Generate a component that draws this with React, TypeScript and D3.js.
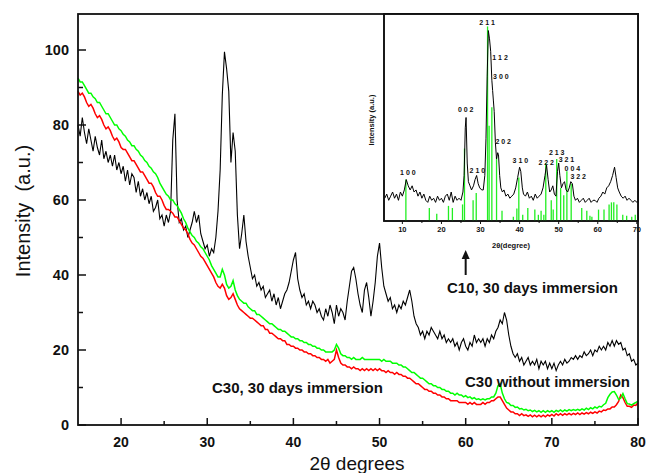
import * as d3 from 'd3';

const W = 646;
const H = 473;

// main pattern sampled every 0.25 deg from 15 to 80 deg (2theta)
const angleStart = 15;
const angleStep = 0.25;

// C10, 30 days immersion (black)
const c10Immersed = [
  80, 77, 82, 78, /* 15 */ 75, 79, 76, 73, /* 16 */ 77, 74, 72, 76, /* 17 */ 71, 73, 70, 72, /* 18 */
  69, 72, 68, 70, /* 19 */ 67, 69, 65, 68, /* 20 */ 64, 67, 66, 62, /* 21 */ 65, 61, 63, 60, /* 22 */
  62, 59, 61, 57, /* 23 */ 58, 60, 55, 56, /* 24 */ 53, 56, 54, 57, /* 25 */ 76, 83, 60, 54, /* 26 */
  55, 52, 53, 50, /* 27 */ 52, 54, 57, 54, /* 28 */ 56, 51, 49, 47, /* 29 */ 48, 45, 47, 46, /* 30 */
  50, 57, 68, 88, /* 31 */ 99.5, 95, 89, 70, /* 32 */ 78, 73, 56, 47, /* 33 */ 51, 56, 49, 45, /* 34 */
  42, 39, 40, 37, /* 35 */ 38, 36, 37, 34, /* 36 */ 35, 36, 33, 35, /* 37 */ 32, 34, 31, 33, /* 38 */
  35, 36, 38, 41, /* 39 */ 44, 46, 39, 36, /* 40 */ 34, 35, 32, 33, /* 41 */ 31, 33, 32, 30, /* 42 */
  31, 29, 28, 31, /* 43 */ 29, 32, 30, 27, /* 44 */ 32, 29, 31, 30, /* 45 */ 28, 33, 37, 41, /* 46 */
  42, 39, 35, 32, /* 47 */ 30, 36, 38, 34, /* 48 */ 29, 33, 38, 45, /* 49 */ 48.5, 42, 37, 35, /* 50 */
  33, 34, 31, 32, /* 51 */ 30, 32, 31, 33, /* 52 */ 32, 34, 36, 33, /* 53 */ 29, 27, 26, 24, /* 54 */
  25, 23, 25, 24, /* 55 */ 26, 25, 24, 23, /* 56 */ 25, 23, 24, 22, /* 57 */ 23, 22, 23, 21, /* 58 */
  22, 20, 22, 23, /* 59 */ 21, 20, 22, 21, /* 60 */ 24, 22, 23, 22, /* 61 */ 23, 21, 23, 22, /* 62 */
  24, 23, 25, 26, /* 63 */ 28, 27, 30, 28, /* 64 */ 24, 21, 19, 18, /* 65 */ 19, 17, 18, 16, /* 66 */
  17, 18, 16, 17, /* 67 */ 16, 17.5, 15, 17, /* 68 */ 16, 17, 15, 16.5, /* 69 */ 15, 16.5, 14.5, 16, /* 70 */
  17, 16, 17.5, 16.5, /* 71 */ 17, 18, 17.5, 18.5, /* 72 */ 17.5, 18.5, 18, 19.5, /* 73 */ 18.5, 19, 20, 18.5, /* 74 */
  20, 19.5, 21, 20, /* 75 */ 21, 20, 22, 21, /* 76 */ 22.5, 21, 22.5, 21.5, /* 77 */ 22, 20, 20.5, 18.5, /* 78 */
  19, 17, 17.5, 16, /* 79 */ 16.5,
];

// C30, 30 days immersion (red)
const c30Immersed = [
  89, 88, 88.5, 87.5, /* 15 */ 86, 85, 85.5, 84.5, /* 16 */ 83, 82, 82.5, 81.5, /* 17 */ 80, 79, 79.5, 78.5, /* 18 */
  77, 76, 76.5, 75.5, /* 19 */ 74, 73.5, 73.5, 72.5, /* 20 */ 71.5, 70.5, 70.5, 69.5, /* 21 */ 68.5, 67.5, 67.5, 66.5, /* 22 */
  65.5, 64.5, 64.5, 63.5, /* 23 */ 62, 61, 61, 60, /* 24 */ 58.5, 57.5, 57.5, 57, /* 25 */ 56.5, 55.5, 55.5, 54.5, /* 26 */
  53.5, 52.5, 52, 51, /* 27 */ 49.5, 48.5, 48, 47, /* 28 */ 46, 45, 44.5, 43.5, /* 29 */ 42.5, 41.5, 40.5, 39.5, /* 30 */
  38, 37, 36.5, 37.5, /* 31 */ 36.5, 34.5, 33.5, 34, /* 32 */ 35, 33.5, 32, 31, /* 33 */ 30.5, 30, 29.5, 29, /* 34 */
  28.5, 28.5, 28, 27.5, /* 35 */ 27, 26.5, 26.5, 25.5, /* 36 */ 25.5, 24.5, 24.5, 24, /* 37 */ 23.5, 23, 23, 22.5, /* 38 */
  22.5, 21.5, 21.5, 21, /* 39 */ 21, 20.5, 20.5, 20, /* 40 */ 20, 19.5, 19.5, 19, /* 41 */ 19, 18.5, 18.5, 18, /* 42 */
  18, 17.5, 17.5, 17, /* 43 */ 17.5, 16.5, 17, 17.5, /* 44 */ 20, 18, 16.5, 16, /* 45 */ 16, 15.5, 15.5, 15, /* 46 */
  15.5, 15, 15, 14.5, /* 47 */ 15, 14.5, 15, 14.5, /* 48 */ 15, 14.5, 15, 14.5, /* 49 */ 15, 14.5, 14.5, 14, /* 50 */
  14.5, 14, 14, 13.5, /* 51 */ 14, 13.5, 13.5, 13, /* 52 */ 13, 12.5, 12.5, 12, /* 53 */ 11.5, 11, 11, 10.5, /* 54 */
  10, 9.5, 9.5, 9, /* 55 */ 9, 8.5, 8.5, 8, /* 56 */ 8, 7.5, 7.5, 7, /* 57 */ 7, 6.5, 6.5, 6.5, /* 58 */
  6.5, 6, 6, 6, /* 59 */ 6, 5.5, 6, 5.5, /* 60 */ 6, 5.5, 5.5, 5.5, /* 61 */ 6, 5.5, 6, 6, /* 62 */
  6.5, 6.5, 7, 7.5, /* 63 */ 7.5, 6.5, 5.5, 4.5, /* 64 */ 4, 3.5, 3.5, 3, /* 65 */ 3, 2.5, 3, 2.5, /* 66 */
  2.7, 2.3, 2.7, 2.2, /* 67 */ 2.6, 2.2, 2.6, 2.2, /* 68 */ 2.6, 2.2, 2.7, 2.4, /* 69 */ 2.8, 2.4, 3, 2.6, /* 70 */
  3, 2.6, 3, 2.7, /* 71 */ 3.1, 2.7, 3.1, 2.8, /* 72 */ 3.2, 2.8, 3.2, 2.9, /* 73 */ 3.3, 3, 3.4, 3.1, /* 74 */
  3.5, 3.2, 3.7, 3.5, /* 75 */ 4, 3.9, 4.3, 4.3, /* 76 */ 4.8, 4.8, 5.4, 6.3, /* 77 */ 8, 7.3, 6, 5, /* 78 */
  5, 4.7, 5.3, 5.2, /* 79 */ 6,
];

// C30 without immersion (green)
const c30Dry = [
  92.5, 91.5, 91.5, 90.5, /* 15 */ 89.5, 88.5, 88.5, 87.5, /* 16 */ 87, 86, 86, 85, /* 17 */ 84, 83, 83, 82, /* 18 */
  81, 80, 80, 79, /* 19 */ 78.5, 77.5, 77, 76, /* 20 */ 75.5, 74.5, 74.5, 73.5, /* 21 */ 73, 72, 71.5, 70.5, /* 22 */
  70, 69, 68.5, 67.5, /* 23 */ 67, 66, 64.5, 63.5, /* 24 */ 62.5, 61.5, 61, 60, /* 25 */ 60, 59, 58.5, 57.5, /* 26 */
  56.5, 55, 54, 52.5, /* 27 */ 51.5, 50.5, 50, 49, /* 28 */ 48.5, 47.5, 47, 46, /* 29 */ 45, 44, 42.5, 41.5, /* 30 */
  40.5, 39.5, 39.5, 41.5, /* 31 */ 40, 37.5, 36.5, 37, /* 32 */ 38.5, 36, 34.5, 33.5, /* 33 */ 33, 32.5, 32.5, 31.5, /* 34 */
  31, 30.5, 30.5, 29.5, /* 35 */ 29.5, 29, 28.5, 28, /* 36 */ 27.5, 27, 27, 26.5, /* 37 */ 26, 25.5, 25.5, 25, /* 38 */
  25, 24.5, 24, 23.5, /* 39 */ 23.5, 23, 23, 22.5, /* 40 */ 22.5, 22, 22, 21.5, /* 41 */ 21.5, 21, 21, 20.5, /* 42 */
  20.5, 20, 20, 19.5, /* 43 */ 19.5, 19.5, 19.5, 20, /* 44 */ 21.5, 20.5, 19, 18.5, /* 45 */ 18.5, 18, 18, 17.5, /* 46 */
  18, 17.5, 17.5, 17.5, /* 47 */ 18, 17.5, 17.5, 17.5, /* 48 */ 17.5, 17.5, 17.5, 17.5, /* 49 */ 17.5, 17, 17.5, 17, /* 50 */
  17, 17, 16.5, 16.5, /* 51 */ 16.5, 16, 16, 15.5, /* 52 */ 15.5, 15, 14.5, 14, /* 53 */ 14, 13.5, 13, 12.5, /* 54 */
  12.5, 12, 11.5, 11, /* 55 */ 11, 10.5, 10.5, 10, /* 56 */ 10, 9.5, 9.5, 9, /* 57 */ 9, 8.5, 8.5, 8, /* 58 */
  8.5, 8, 8, 7.5, /* 59 */ 7.8, 7.3, 7.5, 7, /* 60 */ 7.3, 6.8, 7, 6.7, /* 61 */ 7, 6.7, 7, 7, /* 62 */
  7.5, 7.5, 8.5, 10.5, /* 63 */ 11, 8.5, 7, 6, /* 64 */ 5.8, 5.2, 5.2, 4.7, /* 65 */ 4.8, 4.3, 4.4, 4, /* 66 */
  4.2, 3.8, 4, 3.6, /* 67 */ 3.9, 3.5, 3.8, 3.4, /* 68 */ 3.8, 3.4, 3.8, 3.5, /* 69 */ 3.8, 3.4, 3.9, 3.6, /* 70 */
  4, 3.6, 4, 3.7, /* 71 */ 4.1, 3.8, 4.1, 3.9, /* 72 */ 4.2, 3.9, 4.3, 4, /* 73 */ 4.5, 4.1, 4.6, 4.3, /* 74 */
  4.8, 4.5, 5, 4.8, /* 75 */ 5.4, 5.8, 7.3, 8.2, /* 76 */ 8.8, 8.9, 8, 6.8, /* 77 */ 7.2, 8.4, 7, 5.7, /* 78 */
  5.6, 5.3, 5.7, 6, /* 79 */ 6.4,
];

const xTicks = [20, 30, 40, 50, 60, 70, 80];
const xMinorTicks = [25, 35, 45, 55, 65, 75];
const yTicks = [0, 20, 40, 60, 80, 100];
const yMinorTicks = [10, 30, 50, 70, 90];

// inset: C10 pattern against hydroxyapatite reference sticks
const insetPattern: [number, number][] = [
  [5.5, 11], [6, 13], [6.5, 10], [7, 12], [7.5, 14], [8, 11], [8.5, 13], [9, 10], [9.5, 14], [10, 12],
  [10.5, 15], [11, 20], [11.5, 17], [12, 15], [12.5, 17], [13, 14], [13.5, 15], [14, 12], [14.5, 14], [15, 11],
  [15.5, 13], [16, 10], [16.5, 9], [17, 12], [17.5, 10], [18, 11], [18.5, 9], [19, 12], [19.5, 10], [20, 11],
  [20.5, 9], [21, 12], [21.5, 13], [22, 10], [22.5, 14], [23, 9], [23.5, 12], [24, 10], [24.5, 11], [25, 10],
  [25.5, 14], [25.8, 22], [26.1, 45], [26.3, 50], [26.6, 28], [26.9, 19], [27.3, 17], [27.7, 15], [28.2, 17], [28.6, 20],
  [29, 22], [29.4, 18], [29.8, 16], [30.3, 15], [30.7, 15], [31.1, 22], [31.4, 40], [31.7, 70], [32, 92], [32.3, 88],
  [32.6, 82], [32.9, 68], [33.1, 63], [33.3, 58], [33.5, 53], [33.8, 38], [34.1, 30], [34.4, 33], [34.6, 32], [34.9, 22],
  [35.2, 16], [35.6, 14], [36, 15], [36.5, 12], [37, 13], [37.5, 11], [38, 12], [38.5, 13], [39, 16], [39.5, 21],
  [40, 26], [40.3, 24], [40.7, 16], [41, 13], [41.5, 12], [42, 14], [42.5, 11], [43, 12], [43.5, 10], [44, 13],
  [44.5, 11], [45, 12], [45.5, 13], [46, 16], [46.5, 22], [46.9, 27], [47.3, 20], [47.7, 14], [48.1, 15], [48.5, 17],
  [48.9, 13], [49.3, 12], [49.7, 24], [50, 28], [50.3, 22], [50.7, 16], [51.1, 18], [51.5, 19], [51.9, 15], [52.3, 14],
  [52.7, 16], [53.1, 19], [53.5, 18], [53.9, 12], [54.3, 10], [54.8, 11], [55.3, 9], [55.8, 10], [56.3, 11], [56.8, 9],
  [57.3, 10], [57.8, 11], [58.3, 9], [58.8, 10], [59.3, 10], [59.8, 9], [60.3, 11], [60.8, 12], [61.3, 14], [61.8, 13],
  [62.3, 16], [62.8, 17], [63.3, 19], [63.8, 22], [64.3, 26], [64.7, 21], [65.1, 16], [65.5, 14], [66, 12], [66.5, 11],
  [67, 12], [67.5, 10], [68, 11], [68.5, 10], [69, 9], [69.5, 10], [70, 9], [70.3, 10],
];

const hapSticks: [number, number][] = [
  [10.9, 20], [16.9, 6.3], [18.8, 3.5], [21.8, 7.3], [22.8, 6.3], [25.4, 8], [25.9, 35], [28.1, 10], [28.9, 13.5],
  [31.8, 94], [32.2, 46], [32.9, 55], [34.1, 31], [35.5, 5], [38.4, 2], [39.3, 6], [39.8, 21], [40.8, 3], [42.1, 6.3],
  [43.9, 5.5], [44.8, 3], [45.5, 5], [46.2, 3], [46.7, 28], [48.1, 10], [48.6, 5.5], [49.5, 30], [50.5, 16], [51.3, 12.5],
  [52.1, 24], [53.2, 18], [55.9, 6.3], [57.2, 5], [58.0, 2.5], [58.5, 2], [60.2, 5.5], [61.6, 5.5], [62.9, 8], [63.5, 9],
  [64.1, 9], [64.9, 8], [66.4, 3], [67.4, 2.5], [68.7, 2], [69.6, 3],
];

const hklLabels: { hkl: string; angle: number; level: number }[] = [
  { hkl: '1 0 0', angle: 11.4, level: 23.3 },
  { hkl: '0 0 2', angle: 26.2, level: 54 },
  { hkl: '2 1 0', angle: 29.2, level: 24.3 },
  { hkl: '2 1 1', angle: 31.7, level: 95.8 },
  { hkl: '1 1 2', angle: 35.0, level: 78.9 },
  { hkl: '3 0 0', angle: 35.2, level: 70 },
  { hkl: '2 0 2', angle: 35.8, level: 38.6 },
  { hkl: '3 1 0', angle: 40.2, level: 29.5 },
  { hkl: '2 2 2', angle: 46.8, level: 28.4 },
  { hkl: '2 1 3', angle: 49.5, level: 33.2 },
  { hkl: '3 2 1', angle: 52.0, level: 29.8 },
  { hkl: '0 0 4', angle: 53.5, level: 25.3 },
  { hkl: '3 2 2', angle: 55.0, level: 21.4 },
];
const insetTicks = [10, 20, 30, 40, 50, 60, 70];
const insetMinorTicks = [15, 25, 35, 45, 55, 65];

const FONT = '"Liberation Sans", Arial, Helvetica, sans-serif';
const INK = '#111';

export default function App() {
  // main plot frame
  const left = 78, right = 638, top = 14, bottom = 425;
  const x = d3.scaleLinear().domain([15, 80]).range([left, right]);
  const y = d3.scaleLinear().domain([0, 109.6]).range([bottom, top]);

  // inset frame
  const iLeft = 384, iRight = 638, iTop = 14, iBottom = 221;
  const ix = d3.scaleLinear().domain([5.3, 70.3]).range([iLeft, iRight]);
  const iy = d3.scaleLinear().domain([0, 100]).range([iBottom, iTop]);

  const mainLine = d3
    .line<number>()
    .x((_, i) => x(angleStart + i * angleStep))
    .y((d) => y(d));
  const insetLine = d3
    .line<[number, number]>()
    .x((d) => ix(d[0]))
    .y((d) => iy(d[1]));

  const arrowX = ix(26.2);

  return (
    <div style={{ position: 'absolute', left: 0, top: 0 }}>
      <svg width={W} height={H} style={{ display: 'block', background: '#fff' }} fontFamily={FONT}>
        {/* curves */}
        <path d={mainLine(c10Immersed) ?? ''} fill="none" stroke="#000" strokeWidth={1.1} />
        <path d={mainLine(c30Immersed) ?? ''} fill="none" stroke="#ff0000" strokeWidth={1.5} />
        <path d={mainLine(c30Dry) ?? ''} fill="none" stroke="#00ff00" strokeWidth={1.5} />

        {/* main frame and ticks */}
        <rect x={left} y={top} width={right - left} height={bottom - top} fill="none" stroke={INK} strokeWidth={1.8} />
        {xTicks.map((t) => (
          <g key={`xt${t}`}>
            <line x1={x(t)} x2={x(t)} y1={bottom} y2={bottom - 7} stroke={INK} strokeWidth={1.5} />
            <text x={x(t)} y={bottom + 22} textAnchor="middle" fontSize={14} fontWeight="bold" fill={INK}>
              {t}
            </text>
          </g>
        ))}
        {xMinorTicks.map((t) => (
          <line key={`xm${t}`} x1={x(t)} x2={x(t)} y1={bottom} y2={bottom - 4} stroke={INK} strokeWidth={1.5} />
        ))}
        {yTicks.map((t) => (
          <g key={`yt${t}`}>
            <line x1={left} x2={left + 8} y1={y(t)} y2={y(t)} stroke={INK} strokeWidth={1.5} />
            <text x={69} y={y(t) + 5} textAnchor="end" fontSize={14.5} fontWeight="bold" fill={INK}>
              {t}
            </text>
          </g>
        ))}
        {yMinorTicks.map((t) => (
          <line key={`ym${t}`} x1={left} x2={left + 5} y1={y(t)} y2={y(t)} stroke={INK} strokeWidth={1.5} />
        ))}

        {/* axis titles */}
        <text x={357} y={470} textAnchor="middle" fontSize={19} fill={INK}>
          2θ degrees
        </text>
        <text
          transform={`translate(30,${211}) rotate(-90)`}
          textAnchor="middle"
          fontSize={20}
          fill={INK}
          style={{ whiteSpace: 'pre' }}
        >
          {'Intensity  (a.u.)'}
        </text>

        {/* inset */}
        <rect x={iLeft} y={iTop} width={iRight - iLeft} height={iBottom - iTop} fill="#fff" stroke={INK} strokeWidth={1.6} />
        {hapSticks.map(([a, v], i) => (
          <line key={`s${i}`} x1={ix(a)} x2={ix(a)} y1={iBottom} y2={iy(v)} stroke="#22ee22" strokeWidth={1.3} />
        ))}
        <path d={insetLine(insetPattern) ?? ''} fill="none" stroke="#000" strokeWidth={1} />
        <rect x={iLeft} y={iTop} width={iRight - iLeft} height={iBottom - iTop} fill="none" stroke={INK} strokeWidth={1.6} />
        {insetTicks.map((t) => (
          <g key={`it${t}`}>
            <line x1={ix(t)} x2={ix(t)} y1={iBottom} y2={iBottom + 3} stroke={INK} strokeWidth={1} />
            <text x={ix(t)} y={iBottom + 11} textAnchor="middle" fontSize={7.5} fontWeight="bold" fill={INK}>
              {t}
            </text>
          </g>
        ))}
        {insetMinorTicks.map((t) => (
          <line key={`im${t}`} x1={ix(t)} x2={ix(t)} y1={iBottom} y2={iBottom + 2} stroke={INK} strokeWidth={1} />
        ))}
        {hklLabels.map((l) => (
          <text
            key={l.hkl}
            x={ix(l.angle)}
            y={iy(l.level) + 2.6}
            textAnchor="middle"
            fontSize={7}
            fontWeight="bold"
            fill={INK}
            style={{ whiteSpace: 'pre' }}
          >
            {l.hkl}
          </text>
        ))}
        <text x={511} y={248} textAnchor="middle" fontSize={7.5} fontWeight="bold" fill={INK}>
          2θ(degree)
        </text>
        <text transform="translate(374,120) rotate(-90)" textAnchor="middle" fontSize={7.5} fontWeight="bold" fill={INK}>
          Intensity (a.u.)
        </text>

        {/* annotations */}
        <line x1={arrowX} x2={arrowX} y1={257} y2={275} stroke={INK} strokeWidth={2} />
        <path d={`M${arrowX - 4},${259} L${arrowX},${250} L${arrowX + 4},${259} Z`} fill={INK} />
        <text x={447} y={293} fontSize={15} fontWeight="bold" fill={INK}>
          C10, 30 days immersion
        </text>
        <text x={465} y={387} fontSize={15} fontWeight="bold" fill={INK}>
          C30 without immersion
        </text>
        <text x={212} y={393} fontSize={15} fontWeight="bold" fill={INK}>
          C30, 30 days immersion
        </text>
      </svg>
    </div>
  );
}
